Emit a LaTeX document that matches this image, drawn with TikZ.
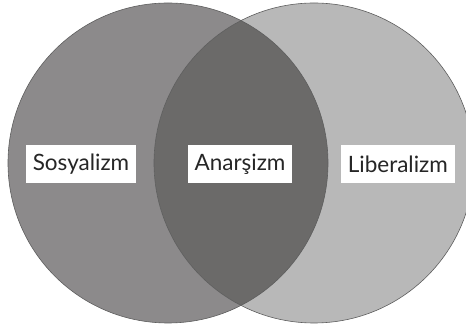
\documentclass[tikz,border=0pt]{standalone}
\usepackage{fontspec}
\setmainfont{Lato}
\usetikzlibrary{positioning}

\definecolor{leftgray}{HTML}{8C8A8B}
\definecolor{rightgray}{HTML}{B8B8B8}
\definecolor{midgray}{HTML}{6B6A69}
\definecolor{rimgray}{HTML}{5E5E5E}

\begin{document}
\begin{tikzpicture}[x=1pt,y=1pt]
\tikzset{tag/.style={fill=white, text=black!85, font=\fontsize{22.5}{26}\selectfont, minimum height=38pt, inner xsep=7pt}}
\useasboundingbox (0,0) rectangle (466,326);

\coordinate (cs) at (168,163);
\coordinate (cl) at (314,163);

\fill[leftgray] (cs) circle (160);
\fill[rightgray] (cl) circle (160);
\begin{scope}
\clip (cs) circle (160);
\fill[midgray] (cl) circle (160);
\end{scope}
\draw[rimgray, line width=0.6pt] (cs) circle (160);
\draw[rimgray, line width=0.6pt] (cl) circle (160);

\node[tag] (anar) at (240,162) {Anarşizm};
\node[tag, left = 51pt of anar] (sos) {Sosyalizm};
\node[tag, right = 48pt of anar] (lib) {Liberalizm};
\end{tikzpicture}
\end{document}
